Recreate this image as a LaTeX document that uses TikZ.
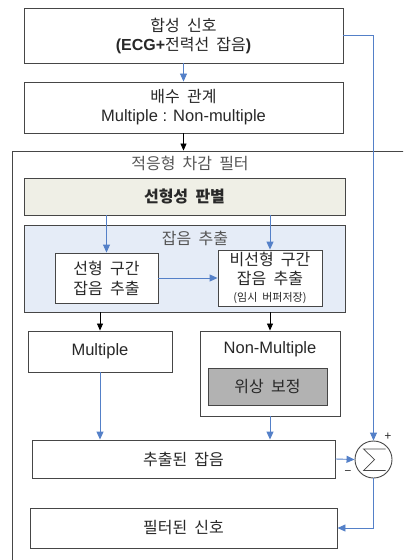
\documentclass[tikz,border=0pt]{standalone}
\usepackage{fontspec}
\setmainfont{Noto Sans CJK KR}[WordSpace=2]
\newfontfamily\lat{Liberation Sans}
\usetikzlibrary{arrows.meta}
\definecolor{lineblue}{RGB}{84,128,200}
\definecolor{edge}{RGB}{70,70,70}
\definecolor{judgefill}{RGB}{239,239,230}
\definecolor{extractfill}{RGB}{229,236,247}
\definecolor{phasefill}{RGB}{178,178,178}
\definecolor{txt}{RGB}{40,40,40}
\definecolor{titletxt}{RGB}{85,85,85}
\tikzset{
  x=1bp, y=-1bp,
  box/.style={draw=edge, line width=0.9bp, fill=white, inner sep=0pt, align=center, text=txt,
    font=\fontsize{16bp}{20bp}\selectfont},
  plain/.style={inner sep=0pt, text=txt, align=center},
  title/.style={inner sep=0pt, text=titletxt, font=\fontsize{16bp}{18bp}\selectfont},
  barrow/.style={draw=lineblue, line width=0.9bp, -{Triangle[width=7bp,length=8bp]}},
  karrow/.style={draw=black, line width=0.8bp, -{Triangle[width=6bp,length=7bp]}},
}
\begin{document}
\begin{tikzpicture}
\useasboundingbox (0,0) rectangle (403,560);
\clip (0,0) rectangle (403,560);
% outer filter box
\node[draw=edge, line width=0.9bp, minimum width=420bp, minimum height=440bp, inner sep=0pt] (outer) at (222,371) {};
\node[title] (outertitle) at (190,163) {적응형 차감 필터};
% top boxes
\node[box, minimum width=319bp, minimum height=55bp] (sig) at (183.5,35.5) {};
\node[plain, font=\fontsize{16bp}{18bp}\selectfont] (sigtext1) at (183.5,25) {합성 신호};
\node[plain, font=\fontsize{16bp}{18bp}\selectfont] (sigtext2) at (183.5,46) {{\lat\bfseries (ECG+}전력선 잡음{\lat\bfseries )}};
\node[box, minimum width=319bp, minimum height=51bp] (mult) at (183.5,107.5) {};
\node[plain, font=\fontsize{16bp}{18bp}\selectfont] (multtext1) at (183.5,97) {배수 관계};
\node[plain, font=\lat\fontsize{16.5bp}{18bp}\selectfont] (multtext2) at (183.5,117) {Multiple : Non-multiple};
% judge
\node[box, fill=judgefill, minimum width=321bp, minimum height=37bp, font=\bfseries\fontsize{16bp}{18bp}\selectfont] (judge) at (184.5,196.5) {선형성 판별};
% extraction group
\node[box, fill=extractfill, minimum width=321bp, minimum height=87bp] (extract) at (184.5,268.5) {};
\node[title] (extracttitle) at (195,238) {잡음 추출};
\node[box, minimum width=103bp, minimum height=50bp] (lin) at (106.5,278) {선형 구간\\잡음 추출};
\node[box, minimum width=104bp, minimum height=56bp] (nonlin) at (270,278) {};
\node[plain, font=\fontsize{16bp}{19bp}\selectfont] (nonlintext) at (270,268.5) {비선형 구간\\잡음 추출};
\node[plain, font=\fontsize{11bp}{12bp}\selectfont] (nonlinnote) at (270,298) {(임시 버퍼저장)};
% multiple / non-multiple
\node[box, minimum width=144bp, minimum height=41bp, font=\lat\fontsize{16.5bp}{18bp}\selectfont] (mul) at (100,351.5) {Multiple};
\node[box, minimum width=140bp, minimum height=85bp] (nonmul) at (270,373.5) {};
\node[plain, font=\lat\fontsize{16.5bp}{18bp}\selectfont] (nonmultext) at (270,349) {Non-Multiple};
\node[box, fill=phasefill, minimum width=119bp, minimum height=37bp] (phase) at (267.5,386.5) {위상 보정};
% output boxes
\node[box, minimum width=303bp, minimum height=38bp] (noise) at (183.5,459) {추출된 잡음};
\node[box, minimum width=307bp, minimum height=40bp] (filtered) at (183.5,528) {필터된 신호};
% sum
\node[draw=edge, line width=0.9bp, circle, minimum size=37bp, inner sep=0pt] (sum) at (373.5,459.5) {};
\draw[edge, line width=0.7bp, line join=miter, shift={(sum.center)}] (12,-10.5) -- (-10,-10.5) -- (1,0) -- (-10,11) -- (12,11);
\node[plain, font=\fontsize{12bp}{12bp}\selectfont] (plus) at (388,437) {+};
\node[plain, font=\fontsize{12bp}{12bp}\selectfont] (minus) at (348,473) {−};
% connectors
\draw[barrow] (sig.south) -- (mult.north);
\coordinate (filtertop) at (mult.south |- outer.north);
\draw[karrow] (mult.south) -- (filtertop);
\coordinate (sigout) at (sig.east);
\draw[barrow] (sigout) -| (sum.north);
\draw[barrow] (lin.north |- judge.south) -- (lin.north);
\draw[barrow] (nonlin.north |- judge.south) -- (nonlin.north);
\draw[barrow] (lin.east) -- (nonlin.west);
\draw[karrow] (mul.north |- extract.south) -- (mul.north);
\draw[karrow] (nonmul.north |- extract.south) -- (nonmul.north);
\draw[barrow] (mul.south) -- (mul.south |- noise.north);
\draw[barrow] (nonmul.south) -- (nonmul.south |- noise.north);
\draw[barrow] (noise.east) -- (sum.west);
\draw[barrow] (sum.south) |- (filtered.east);
\end{tikzpicture}
\end{document}
